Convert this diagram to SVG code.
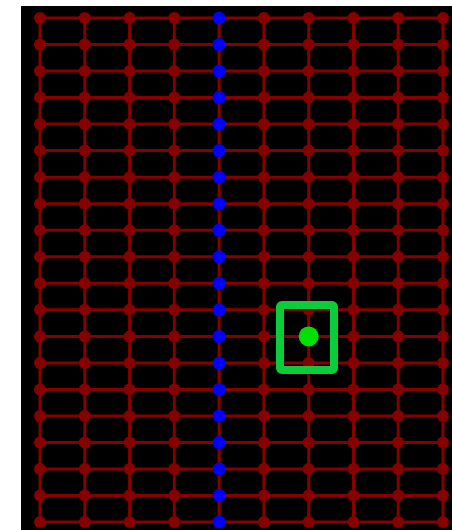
<svg xmlns="http://www.w3.org/2000/svg" width="452" height="530" viewBox="0 0 452 530">
<style>
.e{stroke:#870000;stroke-width:3;fill:none}
.r{fill:#870000}
.b{fill:#0000ff}
</style>
<rect x="0" y="0" width="452" height="530" fill="#ffffff"/>
<rect x="21" y="6" width="431" height="524" fill="#000000"/>
<g id="connectors" class="e">
<path d="M40 18H443M40 44.5H443M40 71.1H443M40 97.6H443M40 124.1H443M40 150.6H443M40 177.2H443M40 203.7H443M40 230.2H443M40 256.8H443M40 283.3H443M40 309.8H443M40 336.4H443M40 362.9H443M40 389.4H443M40 415.9H443M40 442.5H443M40 469H443M40 495.5H443M40 522H443"/>
<path d="M40 18V522M84.8 18V522M129.6 18V522M174.3 18V522M219.1 18V522M263.9 18V522M308.7 18V522M353.5 18V522M398.2 18V522M443 18V522"/>
</g>
<defs>
<circle id="rd" r="6" class="r"/>
<circle id="bd" r="6.5" class="b"/>
</defs>
<g id="n0_0"><use href="#rd" x="40" y="18"/></g><g id="n0_1"><use href="#rd" x="84.8" y="18"/></g><g id="n0_2"><use href="#rd" x="129.6" y="18"/></g><g id="n0_3"><use href="#rd" x="174.3" y="18"/></g><g id="n0_4"><use href="#bd" x="219.1" y="18"/></g><g id="n0_5"><use href="#rd" x="263.9" y="18"/></g><g id="n0_6"><use href="#rd" x="308.7" y="18"/></g><g id="n0_7"><use href="#rd" x="353.5" y="18"/></g><g id="n0_8"><use href="#rd" x="398.2" y="18"/></g><g id="n0_9"><use href="#rd" x="443" y="18"/></g>
<g id="n1_0"><use href="#rd" x="40" y="44.5"/></g><g id="n1_1"><use href="#rd" x="84.8" y="44.5"/></g><g id="n1_2"><use href="#rd" x="129.6" y="44.5"/></g><g id="n1_3"><use href="#rd" x="174.3" y="44.5"/></g><g id="n1_4"><use href="#bd" x="219.1" y="44.5"/></g><g id="n1_5"><use href="#rd" x="263.9" y="44.5"/></g><g id="n1_6"><use href="#rd" x="308.7" y="44.5"/></g><g id="n1_7"><use href="#rd" x="353.5" y="44.5"/></g><g id="n1_8"><use href="#rd" x="398.2" y="44.5"/></g><g id="n1_9"><use href="#rd" x="443" y="44.5"/></g>
<g id="n2_0"><use href="#rd" x="40" y="71.1"/></g><g id="n2_1"><use href="#rd" x="84.8" y="71.1"/></g><g id="n2_2"><use href="#rd" x="129.6" y="71.1"/></g><g id="n2_3"><use href="#rd" x="174.3" y="71.1"/></g><g id="n2_4"><use href="#bd" x="219.1" y="71.1"/></g><g id="n2_5"><use href="#rd" x="263.9" y="71.1"/></g><g id="n2_6"><use href="#rd" x="308.7" y="71.1"/></g><g id="n2_7"><use href="#rd" x="353.5" y="71.1"/></g><g id="n2_8"><use href="#rd" x="398.2" y="71.1"/></g><g id="n2_9"><use href="#rd" x="443" y="71.1"/></g>
<g id="n3_0"><use href="#rd" x="40" y="97.6"/></g><g id="n3_1"><use href="#rd" x="84.8" y="97.6"/></g><g id="n3_2"><use href="#rd" x="129.6" y="97.6"/></g><g id="n3_3"><use href="#rd" x="174.3" y="97.6"/></g><g id="n3_4"><use href="#bd" x="219.1" y="97.6"/></g><g id="n3_5"><use href="#rd" x="263.9" y="97.6"/></g><g id="n3_6"><use href="#rd" x="308.7" y="97.6"/></g><g id="n3_7"><use href="#rd" x="353.5" y="97.6"/></g><g id="n3_8"><use href="#rd" x="398.2" y="97.6"/></g><g id="n3_9"><use href="#rd" x="443" y="97.6"/></g>
<g id="n4_0"><use href="#rd" x="40" y="124.1"/></g><g id="n4_1"><use href="#rd" x="84.8" y="124.1"/></g><g id="n4_2"><use href="#rd" x="129.6" y="124.1"/></g><g id="n4_3"><use href="#rd" x="174.3" y="124.1"/></g><g id="n4_4"><use href="#bd" x="219.1" y="124.1"/></g><g id="n4_5"><use href="#rd" x="263.9" y="124.1"/></g><g id="n4_6"><use href="#rd" x="308.7" y="124.1"/></g><g id="n4_7"><use href="#rd" x="353.5" y="124.1"/></g><g id="n4_8"><use href="#rd" x="398.2" y="124.1"/></g><g id="n4_9"><use href="#rd" x="443" y="124.1"/></g>
<g id="n5_0"><use href="#rd" x="40" y="150.6"/></g><g id="n5_1"><use href="#rd" x="84.8" y="150.6"/></g><g id="n5_2"><use href="#rd" x="129.6" y="150.6"/></g><g id="n5_3"><use href="#rd" x="174.3" y="150.6"/></g><g id="n5_4"><use href="#bd" x="219.1" y="150.6"/></g><g id="n5_5"><use href="#rd" x="263.9" y="150.6"/></g><g id="n5_6"><use href="#rd" x="308.7" y="150.6"/></g><g id="n5_7"><use href="#rd" x="353.5" y="150.6"/></g><g id="n5_8"><use href="#rd" x="398.2" y="150.6"/></g><g id="n5_9"><use href="#rd" x="443" y="150.6"/></g>
<g id="n6_0"><use href="#rd" x="40" y="177.2"/></g><g id="n6_1"><use href="#rd" x="84.8" y="177.2"/></g><g id="n6_2"><use href="#rd" x="129.6" y="177.2"/></g><g id="n6_3"><use href="#rd" x="174.3" y="177.2"/></g><g id="n6_4"><use href="#bd" x="219.1" y="177.2"/></g><g id="n6_5"><use href="#rd" x="263.9" y="177.2"/></g><g id="n6_6"><use href="#rd" x="308.7" y="177.2"/></g><g id="n6_7"><use href="#rd" x="353.5" y="177.2"/></g><g id="n6_8"><use href="#rd" x="398.2" y="177.2"/></g><g id="n6_9"><use href="#rd" x="443" y="177.2"/></g>
<g id="n7_0"><use href="#rd" x="40" y="203.7"/></g><g id="n7_1"><use href="#rd" x="84.8" y="203.7"/></g><g id="n7_2"><use href="#rd" x="129.6" y="203.7"/></g><g id="n7_3"><use href="#rd" x="174.3" y="203.7"/></g><g id="n7_4"><use href="#bd" x="219.1" y="203.7"/></g><g id="n7_5"><use href="#rd" x="263.9" y="203.7"/></g><g id="n7_6"><use href="#rd" x="308.7" y="203.7"/></g><g id="n7_7"><use href="#rd" x="353.5" y="203.7"/></g><g id="n7_8"><use href="#rd" x="398.2" y="203.7"/></g><g id="n7_9"><use href="#rd" x="443" y="203.7"/></g>
<g id="n8_0"><use href="#rd" x="40" y="230.2"/></g><g id="n8_1"><use href="#rd" x="84.8" y="230.2"/></g><g id="n8_2"><use href="#rd" x="129.6" y="230.2"/></g><g id="n8_3"><use href="#rd" x="174.3" y="230.2"/></g><g id="n8_4"><use href="#bd" x="219.1" y="230.2"/></g><g id="n8_5"><use href="#rd" x="263.9" y="230.2"/></g><g id="n8_6"><use href="#rd" x="308.7" y="230.2"/></g><g id="n8_7"><use href="#rd" x="353.5" y="230.2"/></g><g id="n8_8"><use href="#rd" x="398.2" y="230.2"/></g><g id="n8_9"><use href="#rd" x="443" y="230.2"/></g>
<g id="n9_0"><use href="#rd" x="40" y="256.8"/></g><g id="n9_1"><use href="#rd" x="84.8" y="256.8"/></g><g id="n9_2"><use href="#rd" x="129.6" y="256.8"/></g><g id="n9_3"><use href="#rd" x="174.3" y="256.8"/></g><g id="n9_4"><use href="#bd" x="219.1" y="256.8"/></g><g id="n9_5"><use href="#rd" x="263.9" y="256.8"/></g><g id="n9_6"><use href="#rd" x="308.7" y="256.8"/></g><g id="n9_7"><use href="#rd" x="353.5" y="256.8"/></g><g id="n9_8"><use href="#rd" x="398.2" y="256.8"/></g><g id="n9_9"><use href="#rd" x="443" y="256.8"/></g>
<g id="n10_0"><use href="#rd" x="40" y="283.3"/></g><g id="n10_1"><use href="#rd" x="84.8" y="283.3"/></g><g id="n10_2"><use href="#rd" x="129.6" y="283.3"/></g><g id="n10_3"><use href="#rd" x="174.3" y="283.3"/></g><g id="n10_4"><use href="#bd" x="219.1" y="283.3"/></g><g id="n10_5"><use href="#rd" x="263.9" y="283.3"/></g><g id="n10_6"><use href="#rd" x="308.7" y="283.3"/></g><g id="n10_7"><use href="#rd" x="353.5" y="283.3"/></g><g id="n10_8"><use href="#rd" x="398.2" y="283.3"/></g><g id="n10_9"><use href="#rd" x="443" y="283.3"/></g>
<g id="n11_0"><use href="#rd" x="40" y="309.8"/></g><g id="n11_1"><use href="#rd" x="84.8" y="309.8"/></g><g id="n11_2"><use href="#rd" x="129.6" y="309.8"/></g><g id="n11_3"><use href="#rd" x="174.3" y="309.8"/></g><g id="n11_4"><use href="#bd" x="219.1" y="309.8"/></g><g id="n11_5"><use href="#rd" x="263.9" y="309.8"/></g><g id="n11_6"><use href="#rd" x="308.7" y="309.8"/></g><g id="n11_7"><use href="#rd" x="353.5" y="309.8"/></g><g id="n11_8"><use href="#rd" x="398.2" y="309.8"/></g><g id="n11_9"><use href="#rd" x="443" y="309.8"/></g>
<g id="n12_0"><use href="#rd" x="40" y="336.4"/></g><g id="n12_1"><use href="#rd" x="84.8" y="336.4"/></g><g id="n12_2"><use href="#rd" x="129.6" y="336.4"/></g><g id="n12_3"><use href="#rd" x="174.3" y="336.4"/></g><g id="n12_4"><use href="#bd" x="219.1" y="336.4"/></g><g id="n12_5"><use href="#rd" x="263.9" y="336.4"/></g><g id="n12_6"><circle cx="308.7" cy="336.4" r="10" fill="#00e000"/></g><g id="n12_7"><use href="#rd" x="353.5" y="336.4"/></g><g id="n12_8"><use href="#rd" x="398.2" y="336.4"/></g><g id="n12_9"><use href="#rd" x="443" y="336.4"/></g>
<g id="n13_0"><use href="#rd" x="40" y="362.9"/></g><g id="n13_1"><use href="#rd" x="84.8" y="362.9"/></g><g id="n13_2"><use href="#rd" x="129.6" y="362.9"/></g><g id="n13_3"><use href="#rd" x="174.3" y="362.9"/></g><g id="n13_4"><use href="#bd" x="219.1" y="362.9"/></g><g id="n13_5"><use href="#rd" x="263.9" y="362.9"/></g><g id="n13_6"><use href="#rd" x="308.7" y="362.9"/></g><g id="n13_7"><use href="#rd" x="353.5" y="362.9"/></g><g id="n13_8"><use href="#rd" x="398.2" y="362.9"/></g><g id="n13_9"><use href="#rd" x="443" y="362.9"/></g>
<g id="n14_0"><use href="#rd" x="40" y="389.4"/></g><g id="n14_1"><use href="#rd" x="84.8" y="389.4"/></g><g id="n14_2"><use href="#rd" x="129.6" y="389.4"/></g><g id="n14_3"><use href="#rd" x="174.3" y="389.4"/></g><g id="n14_4"><use href="#bd" x="219.1" y="389.4"/></g><g id="n14_5"><use href="#rd" x="263.9" y="389.4"/></g><g id="n14_6"><use href="#rd" x="308.7" y="389.4"/></g><g id="n14_7"><use href="#rd" x="353.5" y="389.4"/></g><g id="n14_8"><use href="#rd" x="398.2" y="389.4"/></g><g id="n14_9"><use href="#rd" x="443" y="389.4"/></g>
<g id="n15_0"><use href="#rd" x="40" y="415.9"/></g><g id="n15_1"><use href="#rd" x="84.8" y="415.9"/></g><g id="n15_2"><use href="#rd" x="129.6" y="415.9"/></g><g id="n15_3"><use href="#rd" x="174.3" y="415.9"/></g><g id="n15_4"><use href="#bd" x="219.1" y="415.9"/></g><g id="n15_5"><use href="#rd" x="263.9" y="415.9"/></g><g id="n15_6"><use href="#rd" x="308.7" y="415.9"/></g><g id="n15_7"><use href="#rd" x="353.5" y="415.9"/></g><g id="n15_8"><use href="#rd" x="398.2" y="415.9"/></g><g id="n15_9"><use href="#rd" x="443" y="415.9"/></g>
<g id="n16_0"><use href="#rd" x="40" y="442.5"/></g><g id="n16_1"><use href="#rd" x="84.8" y="442.5"/></g><g id="n16_2"><use href="#rd" x="129.6" y="442.5"/></g><g id="n16_3"><use href="#rd" x="174.3" y="442.5"/></g><g id="n16_4"><use href="#bd" x="219.1" y="442.5"/></g><g id="n16_5"><use href="#rd" x="263.9" y="442.5"/></g><g id="n16_6"><use href="#rd" x="308.7" y="442.5"/></g><g id="n16_7"><use href="#rd" x="353.5" y="442.5"/></g><g id="n16_8"><use href="#rd" x="398.2" y="442.5"/></g><g id="n16_9"><use href="#rd" x="443" y="442.5"/></g>
<g id="n17_0"><use href="#rd" x="40" y="469"/></g><g id="n17_1"><use href="#rd" x="84.8" y="469"/></g><g id="n17_2"><use href="#rd" x="129.6" y="469"/></g><g id="n17_3"><use href="#rd" x="174.3" y="469"/></g><g id="n17_4"><use href="#bd" x="219.1" y="469"/></g><g id="n17_5"><use href="#rd" x="263.9" y="469"/></g><g id="n17_6"><use href="#rd" x="308.7" y="469"/></g><g id="n17_7"><use href="#rd" x="353.5" y="469"/></g><g id="n17_8"><use href="#rd" x="398.2" y="469"/></g><g id="n17_9"><use href="#rd" x="443" y="469"/></g>
<g id="n18_0"><use href="#rd" x="40" y="495.5"/></g><g id="n18_1"><use href="#rd" x="84.8" y="495.5"/></g><g id="n18_2"><use href="#rd" x="129.6" y="495.5"/></g><g id="n18_3"><use href="#rd" x="174.3" y="495.5"/></g><g id="n18_4"><use href="#bd" x="219.1" y="495.5"/></g><g id="n18_5"><use href="#rd" x="263.9" y="495.5"/></g><g id="n18_6"><use href="#rd" x="308.7" y="495.5"/></g><g id="n18_7"><use href="#rd" x="353.5" y="495.5"/></g><g id="n18_8"><use href="#rd" x="398.2" y="495.5"/></g><g id="n18_9"><use href="#rd" x="443" y="495.5"/></g>
<g id="n19_0"><use href="#rd" x="40" y="522"/></g><g id="n19_1"><use href="#rd" x="84.8" y="522"/></g><g id="n19_2"><use href="#rd" x="129.6" y="522"/></g><g id="n19_3"><use href="#rd" x="174.3" y="522"/></g><g id="n19_4"><use href="#bd" x="219.1" y="522"/></g><g id="n19_5"><use href="#rd" x="263.9" y="522"/></g><g id="n19_6"><use href="#rd" x="308.7" y="522"/></g><g id="n19_7"><use href="#rd" x="353.5" y="522"/></g><g id="n19_8"><use href="#rd" x="398.2" y="522"/></g><g id="n19_9"><use href="#rd" x="443" y="522"/></g>
<g id="cursor"><rect x="280" y="305" width="54" height="65" rx="2" fill="none" stroke="#0bcc3b" stroke-width="8"/></g>
</svg>
